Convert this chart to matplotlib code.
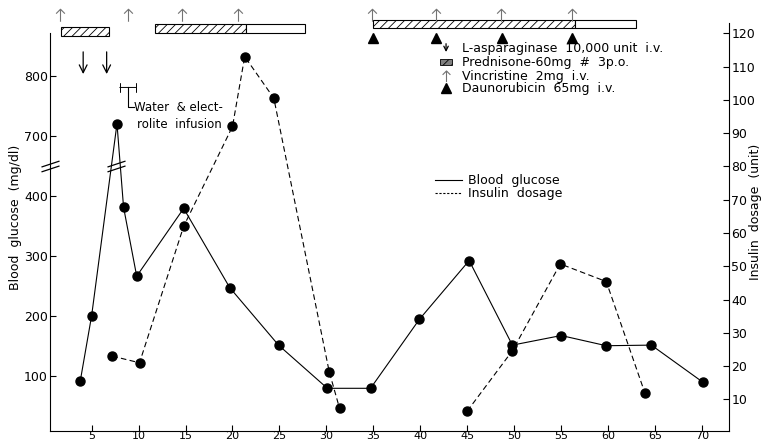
#!/usr/bin/env python3
"""Blood glucose and insulin dosage during induction chemotherapy"""
import numpy as np
import matplotlib.pyplot as plt
import matplotlib.transforms as mtransforms
from matplotlib.patches import Rectangle
from matplotlib.path import Path

# blood glucose (mg/dl) by day
glucose_day = [3.8, 5.0, 7.7, 8.4, 9.8, 14.8, 19.7, 24.9, 30.1, 34.7,
               39.9, 45.2, 49.8, 55.0, 59.8, 64.6, 70.1]
glucose_val = [92, 200, 720, 381, 266, 379, 247, 151, 79, 79,
               194, 292, 151, 167, 150, 151, 89]

# insulin dosage (unit) by day, two separate courses
insulin_day_1 = [7.2, 10.1, 14.8, 20.0, 21.3, 24.4, 30.3, 31.4]
insulin_val_1 = [23, 21, 62, 92, 113, 100.5, 18.3, 7.3]
insulin_day_2 = [45.0, 49.8, 54.9, 59.8, 63.9]
insulin_val_2 = [6.5, 24.6, 50.7, 45.4, 12]

# treatment days
asparaginase_day = [4.1, 6.6]
vincristine_day = [1.6, 8.9, 14.6, 20.6, 34.9, 41.7, 48.6, 56.1]
daunorubicin_day = [35.0, 41.7, 48.7, 56.1]
# prednisone courses: start, end of full dose, end of taper
pred_start = [1.7, 11.7, 35.0]
pred_full_end = [6.8, 21.4, 56.5]
pred_end = [6.8, 27.7, 63.0]

day_ticks = list(range(5, 75, 5))
glucose_ticks = [100, 200, 300, 400, 700, 800]
insulin_ticks = list(range(10, 130, 10))

# broken glucose axis: 450..650 squeezed to nothing
BRK_LO, BRK_HI = 450, 650


def squeeze(v):
    v = np.asarray(v, dtype=float)
    return np.where(v <= BRK_LO, v,
                    np.where(v >= BRK_HI, v - (BRK_HI - BRK_LO) + 0.2,
                             BRK_LO + (v - BRK_LO) * 0.001))


def unsqueeze(d):
    d = np.asarray(d, dtype=float)
    return np.where(d <= BRK_LO, d,
                    np.where(d >= BRK_LO + 0.2, d + (BRK_HI - BRK_LO) - 0.2,
                             BRK_LO + (d - BRK_LO) * 1000))


plt.rcParams['font.family'] = ['DejaVu Sans']
plt.rcParams['hatch.linewidth'] = 0.6

fig = plt.figure(figsize=(7.66, 4.47), dpi=100)
ax = fig.add_axes([0.0653, 0.0358, 0.8868, 0.9128])
ax2 = ax.twinx()

ax.set_yscale('function', functions=(squeeze, unsqueeze))
ax.set_xlim(0.57, 72.9)
ax.set_ylim(7.8, 888)
ax2.set_ylim(0.5, 123.1)

# blood glucose - solid line
ax.plot(glucose_day, glucose_val, '-', color='k', lw=0.8, marker='o',
        ms=6.5, zorder=3)
# insulin - dashed line
for d, v in [(insulin_day_1, insulin_val_1), (insulin_day_2, insulin_val_2)]:
    ax2.plot(d, v, color='k', lw=0.8, ls=(0, (5, 3)), marker='o', ms=6.5)

# axis break marks
brk = Path([(-1, -0.6), (1, 0.06), (-1, -0.06), (1, 0.6)],
           [Path.MOVETO, Path.LINETO, Path.MOVETO, Path.LINETO])
ax.plot([ax.get_xlim()[0], 7.6], [550, 550], ls='none', marker=brk, ms=13,
        mec='k', mfc='none', mew=0.9, clip_on=False, zorder=4)

# vincristine symbol: open caret on a short stem
caret = Path([(-0.7, 0.3), (0, 1), (0.7, 0.3), (0, 0.9), (0, -1)],
             [Path.MOVETO, Path.LINETO, Path.LINETO, Path.MOVETO, Path.LINETO])

ax.set_xticks(day_ticks)
ax.set_yticks(glucose_ticks)
ax.set_yticks([], minor=True)
ax.set_yticklabels([str(t) for t in glucose_ticks])
ax2.set_yticks(insulin_ticks)
ax.tick_params(direction='in', length=4, width=0.8, labelsize=9, pad=1.5)
ax.tick_params(axis='x', labelsize=8, pad=0.3)
ax2.tick_params(direction='in', length=4, width=0.8, labelsize=9, pad=1.5)

for s in ['top', 'right']:
    ax.spines[s].set_visible(False)
for s in ['top', 'left', 'bottom']:
    ax2.spines[s].set_visible(False)
ax.spines['left'].set_bounds(7.8, 872)

fig.text(16 / 766, 1 - 217 / 447, 'Blood  glucose  (mg/dl)', rotation=90,
         ha='center', va='center', fontsize=9)
fig.text(756 / 766, 1 - 212 / 447, 'Insulin  dosage  (unit)', rotation=90,
         ha='center', va='center', fontsize=9)

# treatments along the top
trans = mtransforms.blended_transform_factory(ax.transData, ax.transAxes)
bar_y = [0.968, 0.975, 0.9865]
for s, f, e, y in zip(pred_start, pred_full_end, pred_end, bar_y):
    ax.add_patch(Rectangle((s, y), f - s, 0.022, transform=trans,
                           facecolor='white', edgecolor='k', lw=0.8,
                           hatch='////', clip_on=False))
    if e > f:
        ax.add_patch(Rectangle((f, y), e - f, 0.022, transform=trans,
                               facecolor='white', edgecolor='k', lw=0.8,
                               clip_on=False))

ax.plot(vincristine_day, [1.02] * len(vincristine_day), ls='none',
        marker=caret, ms=9, mec='0.45', mfc='none', mew=0.8,
        transform=trans, clip_on=False)

ax.plot(daunorubicin_day, [0.963] * len(daunorubicin_day), '^', color='k',
        ms=7, transform=trans, clip_on=False)

for d in asparaginase_day:
    ax.annotate('', xy=(d, 0.868), xytext=(d, 0.936), xycoords=trans,
                arrowprops=dict(arrowstyle='->', lw=0.9, color='k',
                                mutation_scale=14))

# water & electrolyte infusion bracket
ax.annotate('', xy=(10.0, 0.842), xytext=(7.7, 0.842), xycoords=trans,
            arrowprops=dict(arrowstyle='|-|', lw=0.7, color='k',
                            mutation_scale=3))
ax.plot([8.85, 8.85, 9.5], [0.842, 0.794, 0.794], color='k', lw=0.8,
        transform=trans)
ax.text(9.55, 0.794, 'Water  & elect-', transform=trans, fontsize=8.5,
        va='center', ha='left')
ax.text(9.8, 0.75, 'rolite  infusion', transform=trans, fontsize=8.5,
        va='center', ha='left')

# legend
tx, sx = 0.607, 0.583
ax.annotate('', xy=(sx, 0.922), xytext=(sx, 0.956), xycoords='axes fraction',
            arrowprops=dict(arrowstyle='->', lw=0.9, mutation_scale=8))
ax.text(tx, 0.938, 'L-asparaginase  10,000 unit  i.v.', transform=ax.transAxes,
        fontsize=9, va='center')
ax.add_patch(Rectangle((sx - 0.009, 0.896), 0.018, 0.015,
                       transform=ax.transAxes, facecolor='0.5',
                       edgecolor='k', lw=0.6, hatch='////'))
ax.text(tx, 0.9027, 'Prednisone-60mg  #  3p.o.', transform=ax.transAxes,
        fontsize=9, va='center')
ax.plot([sx], [0.870], ls='none', marker=caret, ms=8, mec='0.45',
        mfc='none', mew=0.8, transform=ax.transAxes)
ax.text(tx, 0.870, 'Vincristine  2mg  i.v.', transform=ax.transAxes,
        fontsize=9, va='center')
ax.plot([sx], [0.840], '^', color='k', ms=7, transform=ax.transAxes)
ax.text(tx, 0.840, 'Daunorubicin  65mg  i.v.', transform=ax.transAxes,
        fontsize=9, va='center')

ax.plot([0.567, 0.6065], [0.615, 0.615], color='k', lw=0.8,
        transform=ax.transAxes)
ax.text(0.615, 0.615, 'Blood  glucose', transform=ax.transAxes,
        fontsize=9, va='center')
ax.plot([0.567, 0.6065], [0.5826, 0.5826], color='k', lw=0.8,
        ls=(0, (2, 1.5)), transform=ax.transAxes)
ax.text(0.615, 0.5826, 'Insulin  dosage', transform=ax.transAxes,
        fontsize=9, va='center')

fig.savefig('out.png', dpi=100)
